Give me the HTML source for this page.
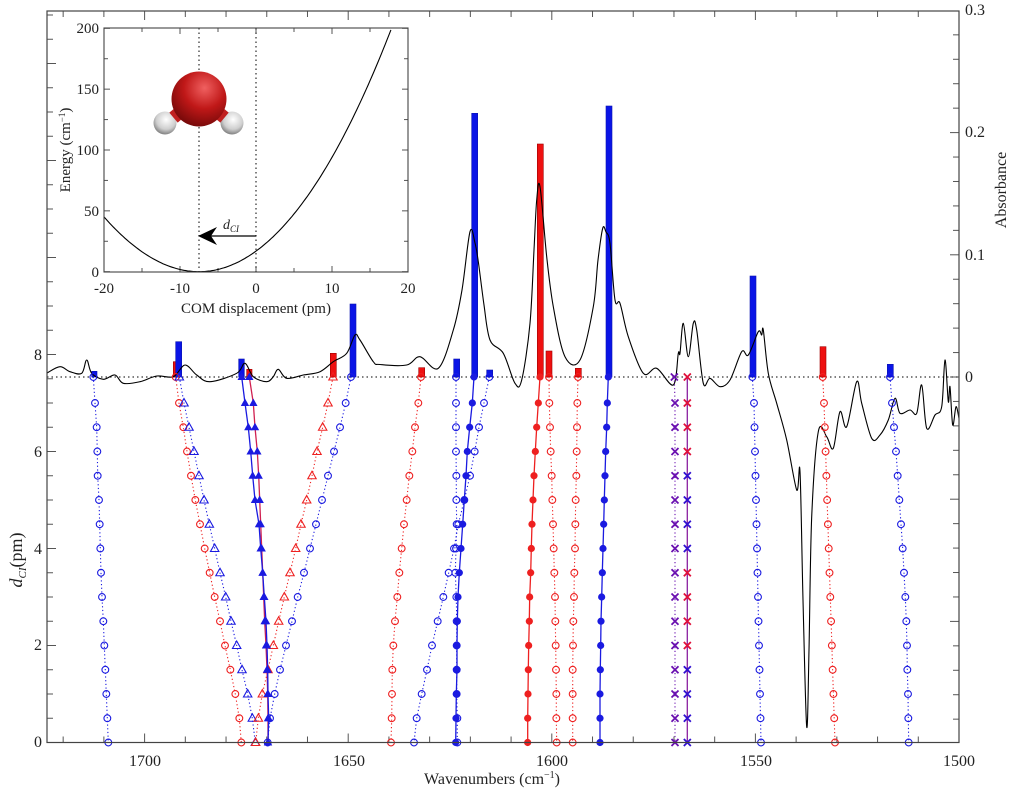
<!DOCTYPE html>
<html><head><meta charset="utf-8"><style>
html,body{margin:0;padding:0;background:#fff;}
svg{display:block;font-family:"Liberation Serif",serif;}
</style></head><body>
<svg id="s" width="1011" height="790" viewBox="0 0 1011 790" xmlns="http://www.w3.org/2000/svg">
<rect x="0" y="0" width="1011" height="790" fill="#fff"/>
<g id="ticks" stroke="#555" stroke-width="1"></g>
<line x1="47" y1="377" x2="959" y2="377" stroke="#000" stroke-width="1" stroke-dasharray="1.5,3"/>
<g id="bars"></g>
<path id="spec" fill="none" stroke="#000" stroke-width="1.1"/>
<g id="series"></g>
<rect x="47" y="11" width="912" height="731.5" fill="none" stroke="#444" stroke-width="1.2"/>
<g font-size="16" fill="#222" text-anchor="end">
<text x="42" y="747">0</text><text x="42" y="650">2</text><text x="42" y="554">4</text><text x="42" y="457">6</text><text x="42" y="360">8</text>
</g>
<g font-size="16" fill="#222">
<text x="965" y="382">0</text><text x="965" y="260">0.1</text><text x="965" y="137">0.2</text><text x="965" y="15">0.3</text>
</g>
<g font-size="16" fill="#222" text-anchor="middle">
<text x="145" y="766">1700</text><text x="349" y="766">1650</text><text x="552" y="766">1600</text><text x="756" y="766">1550</text><text x="959" y="766">1500</text>
<text x="492" y="784">Wavenumbers (cm<tspan font-size="10" dy="-6">−1</tspan><tspan dy="6">)</tspan></text>
</g>
<text transform="translate(22,560) rotate(-90)" font-size="18" fill="#222" text-anchor="middle"><tspan font-style="italic">d</tspan><tspan font-style="italic" font-size="11" dy="4">CI</tspan><tspan dy="-4">(pm)</tspan></text>
<text transform="translate(1006,190) rotate(-90)" font-size="16" fill="#222" text-anchor="middle">Absorbance</text>

<rect x="104" y="28" width="304" height="244" fill="#fff"/>
<g id="iticks" stroke="#555" stroke-width="1"></g>
<line x1="199" y1="28" x2="199" y2="272" stroke="#000" stroke-dasharray="1.5,3"/>
<line x1="256" y1="28" x2="256" y2="272" stroke="#000" stroke-dasharray="1.5,3"/>
<defs>
<radialGradient id="og" cx="0.6" cy="0.3" r="0.75"><stop offset="0" stop-color="#f06060"/><stop offset="0.5" stop-color="#c01818"/><stop offset="1" stop-color="#700808"/></radialGradient>
<radialGradient id="hg" cx="0.55" cy="0.35" r="0.7"><stop offset="0" stop-color="#ffffff"/><stop offset="0.6" stop-color="#cfcfcf"/><stop offset="1" stop-color="#707070"/></radialGradient>
</defs>
<circle cx="165" cy="123" r="11.5" fill="url(#hg)"/>
<circle cx="232" cy="123" r="11.5" fill="url(#hg)"/>
<rect x="172" y="108" width="10" height="13" fill="#c02020" transform="rotate(-40 177 114)"/>
<rect x="216" y="108" width="10" height="13" fill="#c02020" transform="rotate(40 221 114)"/>
<circle cx="199" cy="99" r="27.5" fill="url(#og)"/>
<path id="pot" fill="none" stroke="#000" stroke-width="1.1"/>
<line x1="256" y1="236" x2="208" y2="236" stroke="#000" stroke-width="1.2"/>
<polygon points="198,236 217,227 211,236 217,245" fill="#000"/>
<text x="223" y="229" font-size="14" font-style="italic" fill="#222">d<tspan font-size="9" dy="3">CI</tspan></text>
<rect x="104" y="28" width="304" height="244" fill="none" stroke="#444" stroke-width="1.1"/>
<g font-size="15" fill="#222" text-anchor="middle">
<text x="104" y="293">-20</text><text x="180" y="293">-10</text><text x="256" y="293">0</text><text x="332" y="293">10</text><text x="408" y="293">20</text>
<text x="256" y="313">COM displacement (pm)</text>
</g>
<g font-size="15" fill="#222" text-anchor="end">
<text x="99" y="277">0</text><text x="99" y="216">50</text><text x="99" y="155">100</text><text x="99" y="94">150</text><text x="99" y="33">200</text>
</g>
<text transform="translate(70,150) rotate(-90)" font-size="15" fill="#222" text-anchor="middle">Energy (cm<tspan font-size="9" dy="-5">−1</tspan><tspan dy="5">)</tspan></text>
</svg>
<script>
const NS="http://www.w3.org/2000/svg";
function el(p,t,a){const e=document.createElementNS(NS,t);for(const k in a)e.setAttribute(k,a[k]);p.appendChild(e);return e;}
function smooth(P){let d='M'+P[0][0]+','+P[0][1];for(let i=0;i<P.length-1;i++){const p0=P[Math.max(0,i-1)],p1=P[i],p2=P[i+1],p3=P[Math.min(P.length-1,i+2)];
 const c1=[p1[0]+(p2[0]-p0[0])/6,p1[1]+(p2[1]-p0[1])/6],c2=[p2[0]-(p3[0]-p1[0])/6,p2[1]-(p3[1]-p1[1])/6];
 d+=`C${c1[0].toFixed(1)},${c1[1].toFixed(1)} ${c2[0].toFixed(1)},${c2[1].toFixed(1)} ${p2[0]},${p2[1]}`;}return d;}
const T=document.getElementById('ticks');
function X(w){return 959-(w-1500)*4.072;}
for(let w=1500;w<=1720;w+=10){const x=X(w);const L=(w%50==0)?9:6;
 el(T,'line',{x1:x,y1:742.5,x2:x,y2:742.5-L});el(T,'line',{x1:x,y1:11,x2:x,y2:11+L});}
for(let d=0;d<=15;d+=0.5){const y=742.5-48.5*d;if(y<11)break;const L=(d%2==0)?9:6;el(T,'line',{x1:47,y1:y,x2:47+L,y2:y});}
for(let a=-0.3;a<=0.3001;a+=0.02){const y=377-a*1222;if(y<11||y>742.5)continue;const m=Math.abs(Math.round(a*100))%10==0;const L=m?9:6;el(T,'line',{x1:959,y1:y,x2:959-L,y2:y});}
const IT=document.getElementById('iticks');
for(let p=-20;p<=20;p+=5){const x=256+p*7.6;const L=p%10==0?6:4;el(IT,'line',{x1:x,y1:272,x2:x,y2:272-L});el(IT,'line',{x1:x,y1:28,x2:x,y2:28+L});}
for(let e=0;e<=200;e+=25){const y=271.7-e*1.217;const L=e%50==0?6:4;el(IT,'line',{x1:104,y1:y,x2:104+L,y2:y});el(IT,'line',{x1:408,y1:y,x2:408-L,y2:y});}
let pp=[];for(let x=-20;x<=20;x+=0.25){const u=x+7.5;const E=0.296*u*u+0.00062*u*u*u;if(E>200.5)break;pp.push([+(256+x*7.6).toFixed(1),+(271.7-E*1.217).toFixed(1)]);}
document.getElementById('pot').setAttribute('d','M'+pp.map(p=>p.join(',')).join('L'));
const B=document.getElementById('bars');
const bars=[[91.7,97,371.3,'b'],[173.3,179,361.7,'r'],[175.7,181.7,341.7,'b'],[238.7,244.3,359,'b'],[246.7,252,369.3,'r'],[330.3,336.3,353.3,'r'],[350,356,304,'b'],
[418.7,424.7,367.7,'r'],[453.7,459.7,359,'b'],[471.7,477.7,113.3,'b'],[486.7,492.7,370,'b'],[537.3,543.3,144,'r'],[546,552,351,'r'],[575.3,581.3,368.3,'r'],[606,612,106,'b'],
[750,756,276,'b'],[820,826,346.7,'r'],[887.3,893.3,364.3,'b']];
for(const b of bars){el(B,'rect',{x:b[0],y:b[2],width:b[1]-b[0],height:377-b[2],fill:b[3]=='b'?'#0a14e6':'#ee1010',stroke:b[3]=='b'?'#0a14b0':'#a00000','stroke-width':0.6});}
const sp=[[47,373],[60,366.7],[70,371.7],[81.7,373.3],[86.7,360],[91.7,373.3],[103.3,379.3],[115,375],[123.3,383.3],[140,381.7],[156.7,376],[173.3,376.7],[185,365],[196.7,375],[210,381.7],[236.7,373.3],[245,363.3],[253.3,376.7],[266.7,381.7],[273.3,376.7],[278.3,369.3],[286.7,378.3],[303.3,375],[320,371.7],[333.3,361.7],[346.7,353.3],[355,335],[360,340],[373.3,361.7],[380,364.5],[406.7,365],[420,356.7],[438.3,368.3],[453.3,330],[462,290],[470,231.7],[475,243],[478.3,261.7],[484,305],[490,340],[503.3,353.3],[515,383.3],[521.7,380],[530,323.3],[534,250],[536.7,200],[540,186.7],[546.7,256.7],[553.3,306.7],[565,356.7],[580,360],[593.3,306.7],[598,260],[602.7,228.3],[606,232],[610,243.3],[615,300],[620,303.3],[628.3,336.7],[643.3,373.3],[656.7,368.3],[673.3,385],[678.3,353.3],[680,353.3],[683.3,323.3],[688.3,356.7],[693.3,323.3],[696.7,330],[703.3,383.3],[710,378.3],[720,386.7],[730,380],[741.7,351.7],[748.3,355],[758.3,331.7],[761.7,335],[763.3,330],[768.3,373.3],[776.7,403.3],[786.7,440],[796.7,490],[800,471.7],[803,600],[806.7,726.7],[809,650],[811.7,516.7],[818.3,431.7],[826.7,436.7],[833.3,448.3],[840,411.7],[846.7,426.7],[856.7,381.7],[861.7,403.3],[871.7,438.3],[880,435],[888.3,420],[895,398.3],[900,413.3],[910,410],[916.7,413.3],[921.7,385],[926.7,428.3],[935,415],[941.7,406.7],[945,360],[948.3,401.7],[950,386.7],[952.7,425],[956,406.7],[959,418.3]];
document.getElementById('spec').setAttribute('d',smooth(sp));
const G=document.getElementById('series');
const rows=[377];for(let i=0;i<15;i++)rows.push(742.5-48.5*(7-0.5*i));
const BL='#1a1ae0',RD='#ee2020';
function lin(a,b,c){const r=[a];for(let i=0;i<15;i++)r.push(b+(c-b)*i/14);return r;}
const ser=[
[40,[160,165,170,172,173,177,179,181,183,186,190,193,196,199,202,205],BL,'o',1],
[40,[407,417,430,441,453,466,480,494,509,524,540,555,571,586,598,604],RD,'o',1],
[40,[418,432,447,462,477,492,508,524,540,557,573,590,606,623,637,646],BL,'t',1],
[40,[879,864,848,831,816,800,783,767,750,733,716,700,684,667,655,647],RD,'t',1],
[40,[933,917,900,882,864,846,828,810,792,773,756,738,720,704,690,683],BL,'o',1],
[40,[628,640,645,652,656,659,662,665,668,671,674,678,681,683,684,684],'#d02050','T',0,BL],
[40,[605,615,625,632,638,645,657,662,668,673,678,681,683,684,686,684],BL,'T',0],
[370,[153,145,135,127,118,110,102,95,88,82,75,70,67,66,65,63],RD,'o',1],
[370,[258,258,258,258,259,259,260,258,256,259,260,260,260,260,262,262],BL,'o',1],
[370,[358,342,327,314,300,283,265,252,236,220,203,186,171,155,140,132],BL,'o',1],
[370,[312,307,299,292,288,283,278,273,268,264,262,261,261,259,258,257],BL,'F',0],
[370,[510,505,500,496,492,489,486,484,482,479,478,476,475,474,473,473],RD,'F',0],
[370,[537,538,540,542,545,547,549,551,553,555,556,557,558,559,559,560],RD,'o',1],
[370,[624,622,621,620,619,617,616,615,613,612,610,609,608,608,608,608],RD,'o',1],
[370,[715,712,710,707,705,703,701,699,697,695,693,692,691,690,690,690],BL,'F',0],
[370,lin(913,915,915),'#6a10b0','x',1],
[370,lin(952,952,952),'#8a20a0','X',0],
[680,lin(217,222,243),BL,'o',1],
[680,lin(428,432,465),RD,'o',1],
[680,[630,636,642,648,653,658,663,668,672,676,679,681,682,684,685,686],BL,'o',1]
];
for(const s of ser){const xs=s[1].map(z=>s[0]+z/3);
 const pts=xs.map((x,i)=>x.toFixed(1)+','+rows[i].toFixed(1)).join(' ');
 const a={points:pts,fill:'none',stroke:s[2],'stroke-width':s[4]?1.1:1.3};if(s[4])a['stroke-dasharray']='1.2,2.5';
 el(G,'polyline',a);
 xs.forEach((x,i)=>{const y=rows[i];const c=s[5]||s[2];
  if(s[3]=='o')el(G,'circle',{cx:x,cy:y,r:3.4,fill:'none',stroke:c,'stroke-width':1.1});
  else if(s[3]=='F')el(G,'circle',{cx:x,cy:y,r:3.6,fill:c});
  else if(s[3]=='t'||s[3]=='T'){const p=`${x},${y-4.5} ${x-4.2},${y+3} ${x+4.2},${y+3}`;el(G,'polygon',s[3]=='t'?{points:p,fill:'none',stroke:c,'stroke-width':1.1}:{points:p,fill:c});}
  else{let col=c;if(s[3]=='X')col=[0,1,2,3,8,9,10,11].includes(i)?'#e0103a':'#3010d0';
   el(G,'path',{d:`M${x-3.5},${y-3.5}L${x+3.5},${y+3.5}M${x-3.5},${y+3.5}L${x+3.5},${y-3.5}`,stroke:col,'stroke-width':1.8});}
 });}
</script>
</body></html>
